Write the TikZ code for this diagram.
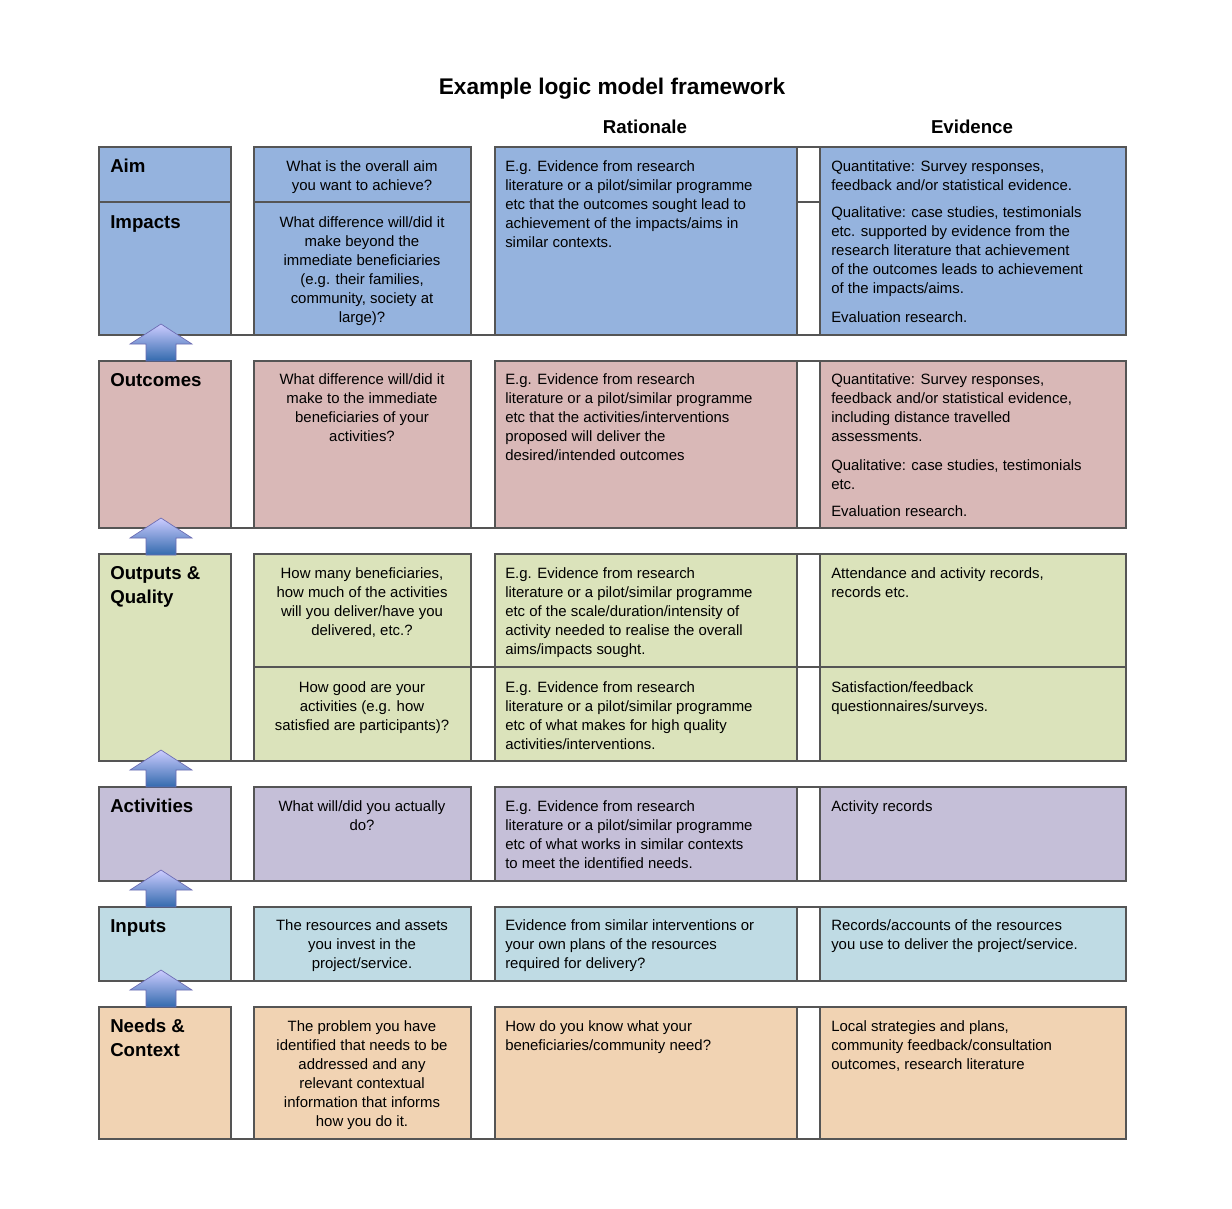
\documentclass[tikz,border=0pt]{standalone}
\usepackage{fontspec}
\setmainfont{Liberation Sans}
\definecolor{cblue}{HTML}{95B3DE}
\definecolor{cpink}{HTML}{D9B8B7}
\definecolor{cgreen}{HTML}{DBE3BB}
\definecolor{cpurp}{HTML}{C5BFD8}
\definecolor{clblue}{HTML}{BFDBE4}
\definecolor{corange}{HTML}{F1D3B3}
\definecolor{bord}{HTML}{555555}
\begin{document}
\begin{tikzpicture}[x=0.75pt,y=-0.75pt,
  cell/.style={draw=bord,line width=0.8pt},
  txt/.style={inner sep=0pt,font=\fontsize{11.2}{14.25}\selectfont},
  tl/.style={txt,anchor=north west,align=left},
  tc/.style={txt,anchor=north,align=center},
  hd/.style={inner sep=0pt,anchor=north west,align=left,font=\fontsize{14}{18}\selectfont\bfseries},
  uparrow/.style={draw=white!60!blue!70!black,line width=0.5pt,top color=blue!20!white,bottom color=blue!55!cyan!60!black!80}]
\useasboundingbox (0,0) rectangle (1232,1208);
\fill[white] (0,0) rectangle (1232,1208);
\node[font=\fontsize{17}{20}\selectfont\bfseries] (title) at (612,89) {Example logic model framework};
\node[font=\fontsize{14}{17}\selectfont\bfseries] (hr) at (645,127) {Rationale};
\node[font=\fontsize{14}{17}\selectfont\bfseries] (he) at (972,127) {Evidence};
% band helper: #1 top, #2 bottom, #3 colour
\newcommand{\band}[3]{%
  \draw[bord,line width=0.8pt] (99,#2) -- (1126,#2);
  \draw[cell,fill=#3] (99,#1) rectangle (231,#2);
  \draw[cell,fill=#3] (254,#1) rectangle (471,#2);
  \draw[cell,fill=#3] (495,#1) rectangle (797,#2);
  \draw[cell,fill=white] (797,#1) rectangle (820,#2);
  \draw[cell,fill=#3] (820,#1) rectangle (1126,#2);}
\newcommand{\uparr}[1]{%
  \draw[uparrow] (146,#1) -- (146,#1-17) -- (130,#1-17) -- (161,#1-37) -- (192,#1-17) -- (176,#1-17) -- (176,#1) -- cycle;}
\band{147}{335}{cblue}
\draw[cell] (99,202) -- (231,202); \draw[cell] (254,202) -- (471,202); \draw[cell] (797,202) -- (820,202);
\band{361}{528}{cpink}
\band{554}{761}{cgreen}
\draw[cell] (254,667) -- (1126,667);
\band{787}{881}{cpurp}
\band{907}{981}{clblue}
\band{1007}{1139}{corange}
\uparr{361}\uparr{555}\uparr{787}\uparr{907}\uparr{1007}
% Aim / Impacts
\node[hd] (a1) at (110,159) {Aim};
\node[tc] (a2) at (362,160) {What is the overall aim\\you want to achieve?};
\node[tl] (a3) at (505,160) {E.g. Evidence from research\\literature or a pilot/similar programme\\etc that the outcomes sought lead to\\achievement of the impacts/aims in\\similar contexts.};
\node[tl] (a4) at (831,160) {Quantitative: Survey responses,\\feedback and/or statistical evidence.};
\node[tl] (a5) at (831,206) {Qualitative: case studies, testimonials\\etc. supported by evidence from the\\research literature that achievement\\of the outcomes leads to achievement\\of the impacts/aims.};
\node[tl] (a6) at (831,311) {Evaluation research.};
\node[hd] (i1) at (110,215) {Impacts};
\node[tc] (i2) at (362,216) {What difference will/did it\\make beyond the\\immediate beneficiaries\\(e.g. their families,\\community, society at\\large)?};
% Outcomes
\node[hd] (o1) at (110,373) {Outcomes};
\node[tc] (o2) at (362,373) {What difference will/did it\\make to the immediate\\beneficiaries of your\\activities?};
\node[tl] (o3) at (505,373) {E.g. Evidence from research\\literature or a pilot/similar programme\\etc that the activities/interventions\\proposed will deliver the\\desired/intended outcomes};
\node[tl] (o4) at (831,373) {Quantitative: Survey responses,\\feedback and/or statistical evidence,\\including distance travelled\\assessments.};
\node[tl] (o5) at (831,459) {Qualitative: case studies, testimonials\\etc.};
\node[tl] (o6) at (831,505) {Evaluation research.};
% Outputs
\node[hd] (p1) at (110,566) {Outputs \&\\Quality};
\node[tc] (p2) at (362,567) {How many beneficiaries,\\how much of the activities\\will you deliver/have you\\delivered, etc.?};
\node[tl] (p3) at (505,567) {E.g. Evidence from research\\literature or a pilot/similar programme\\etc of the scale/duration/intensity of\\activity needed to realise the overall\\aims/impacts sought.};
\node[tl] (p4) at (831,567) {Attendance and activity records,\\records etc.};
\node[tc] (q2) at (362,681) {How good are your\\activities (e.g. how\\satisfied are participants)?};
\node[tl] (q3) at (505,681) {E.g. Evidence from research\\literature or a pilot/similar programme\\etc of what makes for high quality\\activities/interventions.};
\node[tl] (q4) at (831,681) {Satisfaction/feedback\\questionnaires/surveys.};
% Activities
\node[hd] (v1) at (110,799) {Activities};
\node[tc] (v2) at (362,800) {What will/did you actually\\do?};
\node[tl] (v3) at (505,800) {E.g. Evidence from research\\literature or a pilot/similar programme\\etc of what works in similar contexts\\to meet the identified needs.};
\node[tl] (v4) at (831,800) {Activity records};
% Inputs
\node[hd] (n1) at (110,919) {Inputs};
\node[tc] (n2) at (362,919) {The resources and assets\\you invest in the\\project/service.};
\node[tl] (n3) at (505,919) {Evidence from similar interventions or\\your own plans of the resources\\required for delivery?};
\node[tl] (n4) at (831,919) {Records/accounts of the resources\\you use to deliver the project/service.};
% Needs
\node[hd] (d1) at (110,1019) {Needs \&\\Context};
\node[tc] (d2) at (362,1020) {The problem you have\\identified that needs to be\\addressed and any\\relevant contextual\\information that informs\\how you do it.};
\node[tl] (d3) at (505,1020) {How do you know what your\\beneficiaries/community need?};
\node[tl] (d4) at (831,1020) {Local strategies and plans,\\community feedback/consultation\\outcomes, research literature};
\end{tikzpicture}
\end{document}
